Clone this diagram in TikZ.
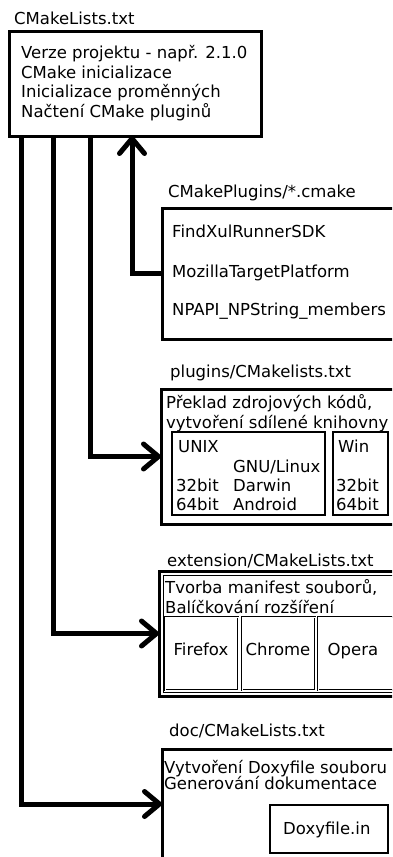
\documentclass[tikz,border=0pt]{standalone}
\usepackage{fontspec}
\setmainfont{DejaVu Sans}
\usetikzlibrary{arrows.meta}
\tikzset{
  box/.style={draw, line width=3pt, anchor=north west, inner sep=0pt, outer sep=0pt},
  thinbox/.style={draw, line width=1.3pt, anchor=north west, inner sep=0pt, outer sep=0pt},
  dblbox/.style={draw, double, double distance=0.9pt, line width=0.7pt, anchor=north west, inner sep=0pt, outer sep=0pt},
  txt/.style={anchor=base west, inner sep=0pt, font=\fontsize{16.5}{19.7}\selectfont},
  ctxt/.style={anchor=base, inner sep=0pt, font=\fontsize{16.5}{19.7}\selectfont},
  conn/.style={line width=5pt, -{Straight Barb[round, length=15pt, width=25pt]}},
}
\begin{document}
\begin{tikzpicture}[x=1pt, y=-1pt]
\useasboundingbox (0,0) rectangle (392,857);
\fill[white] (0,0) rectangle (392,857);
\clip (0,0) rectangle (392,857);

% main CMakeLists.txt
\node[txt] (mainlbl) at (14,24) {CMakeLists.txt};
\node[box, minimum width=252pt, minimum height=105pt] (main) at (9,31) {};
\node[txt] (m1) at (21,58) {Verze projektu - např. 2.1.0};
\node[txt] (m2) at (21,78) {CMake inicializace};
\node[txt] (m3) at (21,97.5) {Inicializace proměnných};
\node[txt] (m4) at (21,117) {Načtení CMake pluginů};

% CMakePlugins
\node[txt] (cmklbl) at (168,197) {CMakePlugins/*.cmake};
\node[box, minimum width=240pt, minimum height=131pt] (cmk) at (162,208) {};
\node[txt] (c1) at (172,237) {FindXulRunnerSDK};
\node[txt] (c2) at (172,277) {MozillaTargetPlatform};
\node[txt] (c3) at (172,315) {NPAPI\_NPString\_members};

% plugins
\node[txt] (pluglbl) at (170,377) {plugins/CMakelists.txt};
\node[box, minimum width=240pt, minimum height=135pt] (plug) at (161,389) {};
\node[txt] (p1) at (166,408) {Překlad zdrojových kódů,};
\node[txt] (p2) at (166,428) {vytvoření sdílené knihovny};
\node[thinbox, minimum width=153pt, minimum height=83pt] (unix) at (172,432) {};
\node[thinbox, minimum width=55pt, minimum height=83pt] (win) at (333,432) {};
\node[txt] (u1) at (178,452) {UNIX};
\node[txt] (u2) at (233,472) {GNU/Linux};
\node[txt] (u3) at (176,491) {32bit};
\node[txt] (u4) at (233,491) {Darwin};
\node[txt] (u5) at (176,510) {64bit};
\node[txt] (u6) at (233,510) {Android};
\node[txt] (w1) at (338,452) {Win};
\node[txt] (w2) at (336,491) {32bit};
\node[txt] (w3) at (336,510) {64bit};

% extension
\node[txt] (extlbl) at (167,566) {extension/CMakeLists.txt};
\node[box, minimum width=242pt, minimum height=125pt] (ext) at (159,571) {};
\node[draw, line width=0.8pt, anchor=north west, inner sep=0pt, minimum width=240pt, minimum height=117pt] (extin) at (163,575) {};
\node[txt] (e1) at (165,593) {Tvorba manifest souborů,};
\node[txt] (e2) at (165,613) {Balíčkování rozšíření};
\node[dblbox, minimum width=73pt, minimum height=73pt] (ff) at (165,617) {};
\node[dblbox, minimum width=73pt, minimum height=73pt] (ch) at (242,617) {};
\node[dblbox, minimum width=80pt, minimum height=73pt] (op) at (318,617) {};
\node[ctxt] (fft) at (201,655) {Firefox};
\node[ctxt] (cht) at (278,655) {Chrome};
\node[ctxt] (opt) at (353,655) {Opera};

% doc
\node[txt] (doclbl) at (169,736) {doc/CMakeLists.txt};
\node[box, minimum width=240pt, minimum height=110pt] (doc) at (162,749) {};
\node[txt] (d1) at (164,773) {Vytvoření Doxyfile souboru};
\node[txt] (d2) at (164,789) {Generování dokumentace};
\node[thinbox, minimum width=118pt, minimum height=48pt] (dxy) at (270,805) {};
\node[txt] (dxyt) at (283,834) {Doxyfile.in};

% connectors
\draw[conn] ([xshift=12pt]main.south west) |- (doc.west);
\draw[conn] ([xshift=44pt]main.south west) |- (ext.west);
\draw[conn] ([xshift=81pt]main.south west) |- (plug.west);
\draw[conn] (cmk.west) -| ([xshift=123pt]main.south west);
\end{tikzpicture}
\end{document}
